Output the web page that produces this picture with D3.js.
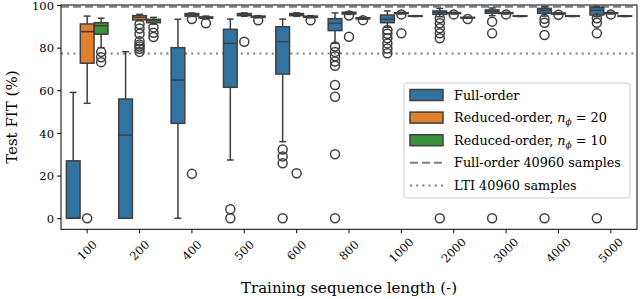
<!DOCTYPE html>
<meta charset="utf-8">
<style>
  body { margin: 0; background: #fff; }
  svg { display: block; font-family: "DejaVu Serif", serif; }
</style>
<div id="container"></div>
<script src="https://d3js.org/d3.v7.min.js"></script>
<script>
  // categories and series
  const categories = ["100", "200", "400", "500", "600", "800", "1000", "2000", "3000", "4000", "5000"];
  const seriesNames = ["Full-order", "Reduced-order, n=20", "Reduced-order, n=10"];
  const yTicks = [0, 20, 40, 60, 80, 100];

  // box stats: [whisker low, q1, median, q3, whisker high]
  const fullStats = [
    [0, 0, 0, 26.9, 59], [0, 0, 39, 55.9, 78.1], [0, 44.5, 64.8, 80, 93.3],
    [27.3, 61.4, 82, 88.6, 93.4], [35.9, 67.6, 82.8, 89.8, 93.4], [82, 88, 91.4, 93.6, 96.3],
    [89.5, 91.7, 93.3, 95.3, 97.2], [94.5, 95.6, 96.6, 97.2, 98.4], [95, 96.1, 97, 97.7, 98.6],
    [94.8, 96.1, 97.5, 98.4, 99.2], [94.5, 95.3, 97.5, 98.9, 99.3]
  ];
  const fullOut = [
    [], [], [], [4.2, 0], [32.2, 29, 25.8, 0],
    [80.5, 78, 76, 73.5, 71.5, 62.5, 57, 30, 0],
    [88.3, 86.5, 84.4, 82, 79.6, 77.4],
    [93.8, 91.4, 89.1, 86.7, 84.4, 0],
    [92.2, 86.7, 0], [93.5, 91.7, 85.9, 0], [93.8, 91.7, 86.7, 0]
  ];
  const red20Stats = [
    [53.9, 72.7, 87.5, 91.1, 94.8], [92.6, 93, 94.2, 95, 95.6], [94.6, 94.8, 95.5, 96, 96.2],
    [94.7, 95, 95.5, 96, 96.3], [94.7, 95, 95.5, 96, 96.3], [95.6, 95.8, 96.2, 96.6, 96.8],
    [95.8, 96, 96.2, 96.4, 96.6], [95.8, 96, 96.2, 96.4, 96.6], [95.8, 96, 96.2, 96.4, 96.6],
    [95.6, 95.8, 96, 96.2, 96.4], [95.8, 96, 96.2, 96.4, 96.6]
  ];
  const red20Out = [
    [0], [91, 89, 86.5, 83, 81.5, 80.5, 79.5, 78], [93.4, 20.8], [82.8], [21.1],
    [95.1, 85.1], [95.6, 86.7], [95.6], [95.6], [95.4], [95.6]
  ];
  const red10Stats = [
    [80, 86.3, 90.3, 91.7, 93.8], [91, 91.7, 92.8, 93.3, 94.2], [93.5, 93.8, 94.1, 94.4, 94.8],
    [94, 94.2, 94.5, 94.8, 95], [94, 94.2, 94.5, 94.8, 95], [93.3, 93.5, 93.7, 94, 94.2],
    [94.6, 94.7, 94.8, 94.9, 95], [93.8, 93.9, 94, 94.2, 94.3], [94.6, 94.7, 94.8, 94.9, 95],
    [94.6, 94.7, 94.8, 94.9, 95], [94.6, 94.7, 94.8, 94.9, 95]
  ];
  const red10Out = [
    [78, 75.5, 73.2], [89.5, 87, 85], [91.4], [92.8], [92.8], [92.9], [], [93.4], [], [], []
  ];

  // reference levels
  const fullRef = 99.2;
  const ltiRef = 77.3;

  const colors = ["#3274a1", "#e1812c", "#3a923a"];
  const edge = "#3f3f3f";

  const W = 640, H = 299;
  const plot = { left: 61, right: 637, top: 5, bottom: 229.3 };

  const svg = d3.select("#container").append("svg")
    .attr("width", W).attr("height", H);

  const x = d3.scaleBand().domain(categories).range([plot.left, plot.right]).padding(0);
  const y = d3.scaleLinear().domain([-5.2, 100]).range([plot.bottom, plot.top]);
  const hue = d3.scaleBand().domain(d3.range(3))
    .range([x.bandwidth() * 0.1, x.bandwidth() * 0.9]);
  const boxW = hue.bandwidth() * 0.98;

  const allStats = [fullStats, red20Stats, red10Stats];
  const allOut = [fullOut, red20Out, red10Out];

  // reference lines (behind boxes)
  svg.append("line")
    .attr("x1", plot.left).attr("x2", plot.right)
    .attr("y1", y(fullRef)).attr("y2", y(fullRef))
    .attr("stroke", "#7f7f7f").attr("stroke-width", 2)
    .attr("stroke-dasharray", "8 4");
  svg.append("line")
    .attr("x1", plot.left).attr("x2", plot.right)
    .attr("y1", y(ltiRef)).attr("y2", y(ltiRef))
    .attr("stroke", "#7f7f7f").attr("stroke-width", 2)
    .attr("stroke-dasharray", "2 4.2");

  const boxes = svg.append("g");
  allStats.forEach((stats, s) => {
    stats.forEach((st, i) => {
      const cx = x(categories[i]) + hue(s) + hue.bandwidth() / 2;
      const [lo, q1, med, q3, hi] = st;
      const g = boxes.append("g");
      // whiskers
      g.append("line").attr("x1", cx).attr("x2", cx)
        .attr("y1", y(q1)).attr("y2", y(lo))
        .attr("stroke", edge).attr("stroke-width", 1.5);
      g.append("line").attr("x1", cx).attr("x2", cx)
        .attr("y1", y(q3)).attr("y2", y(hi))
        .attr("stroke", edge).attr("stroke-width", 1.5);
      [lo, hi].forEach(v => {
        g.append("line").attr("x1", cx - boxW / 4).attr("x2", cx + boxW / 4)
          .attr("y1", y(v)).attr("y2", y(v))
          .attr("stroke", edge).attr("stroke-width", 1.5);
      });
      g.append("rect")
        .attr("x", cx - boxW / 2).attr("width", boxW)
        .attr("y", y(q3)).attr("height", Math.max(0, y(q1) - y(q3)))
        .attr("fill", colors[s]).attr("stroke", edge).attr("stroke-width", 1.5);
      g.append("line").attr("x1", cx - boxW / 2).attr("x2", cx + boxW / 2)
        .attr("y1", y(med)).attr("y2", y(med))
        .attr("stroke", edge).attr("stroke-width", 1.5);
      // fliers
      g.selectAll("circle").data(allOut[s][i]).join("circle")
        .attr("cx", cx).attr("cy", d => y(d)).attr("r", 4.5)
        .attr("fill", "none").attr("stroke", edge).attr("stroke-width", 1.5);
    });
  });

  // frame
  svg.append("rect")
    .attr("x", plot.left).attr("y", plot.top)
    .attr("width", plot.right - plot.left).attr("height", plot.bottom - plot.top)
    .attr("fill", "none").attr("stroke", "#000").attr("stroke-width", 1);

  // y axis
  const yAxis = svg.append("g")
    .attr("transform", `translate(${plot.left},0)`)
    .call(d3.axisLeft(y).tickValues(yTicks).tickSize(4).tickPadding(3));
  yAxis.select(".domain").remove();
  yAxis.selectAll(".tick line").attr("stroke", "#000");
  yAxis.selectAll("text").attr("font-family", "DejaVu Serif").attr("font-size", 11.5)
    .attr("fill", "#000").attr("dy", "0.36em");

  // x axis
  const xAxis = svg.append("g")
    .attr("transform", `translate(0,${plot.bottom})`)
    .call(d3.axisBottom(x).tickSize(4).tickSizeOuter(0));
  xAxis.select(".domain").remove();
  xAxis.selectAll(".tick line").attr("stroke", "#000");
  xAxis.selectAll("text")
    .attr("font-family", "DejaVu Serif").attr("font-size", 11.5).attr("fill", "#000")
    .attr("text-anchor", "middle").attr("dy", null)
    .attr("y", 0)
    .attr("transform", "translate(0,21) rotate(-45)")
    .attr("dominant-baseline", "central");

  // axis titles
  svg.append("text")
    .attr("x", (plot.left + plot.right) / 2).attr("y", 293)
    .attr("text-anchor", "middle").attr("font-size", 15)
    .text("Training sequence length (-)");
  svg.append("text")
    .attr("transform", `translate(17,${(plot.top + plot.bottom) / 2}) rotate(-90)`)
    .attr("text-anchor", "middle").attr("font-size", 15)
    .text("Test FIT (%)");

  // legend
  const leg = svg.append("g").attr("transform", "translate(404,83)");
  leg.append("rect")
    .attr("width", 226).attr("height", 115).attr("rx", 3)
    .attr("fill", "#fff").attr("fill-opacity", 0.8)
    .attr("stroke", "#d0d0d0").attr("stroke-width", 1);
  const rowY = d => 12 + d * 22.6;
  colors.forEach((c, i) => {
    leg.append("rect")
      .attr("x", 6).attr("y", rowY(i) - 5.5).attr("width", 33).attr("height", 11)
      .attr("fill", c).attr("stroke", edge).attr("stroke-width", 1.5);
  });
  leg.append("line").attr("x1", 6).attr("x2", 39).attr("y1", rowY(3)).attr("y2", rowY(3))
    .attr("stroke", "#7f7f7f").attr("stroke-width", 2).attr("stroke-dasharray", "8 4");
  leg.append("line").attr("x1", 6).attr("x2", 39).attr("y1", rowY(4)).attr("y2", rowY(4))
    .attr("stroke", "#7f7f7f").attr("stroke-width", 2).attr("stroke-dasharray", "2 4.2");

  const labelX = 50;
  const fs = 12.8;
  leg.append("text").attr("x", labelX).attr("y", rowY(0) + 4.5).attr("font-size", fs).text(seriesNames[0]);
  [20, 10].forEach((n, k) => {
    const t = leg.append("text").attr("x", labelX).attr("y", rowY(k + 1) + 4.5).attr("font-size", fs);
    t.append("tspan").text("Reduced-order, ");
    t.append("tspan").attr("font-style", "italic").text("n");
    t.append("tspan").attr("font-style", "italic").attr("font-size", fs * 0.7).attr("dy", 3).text("ϕ");
    t.append("tspan").attr("dy", -3).text(" = " + n);
  });
  leg.append("text").attr("x", labelX).attr("y", rowY(3) + 4.5).attr("font-size", fs).text("Full-order 40960 samples");
  leg.append("text").attr("x", labelX).attr("y", rowY(4) + 4.5).attr("font-size", fs).text("LTI 40960 samples");
</script>
